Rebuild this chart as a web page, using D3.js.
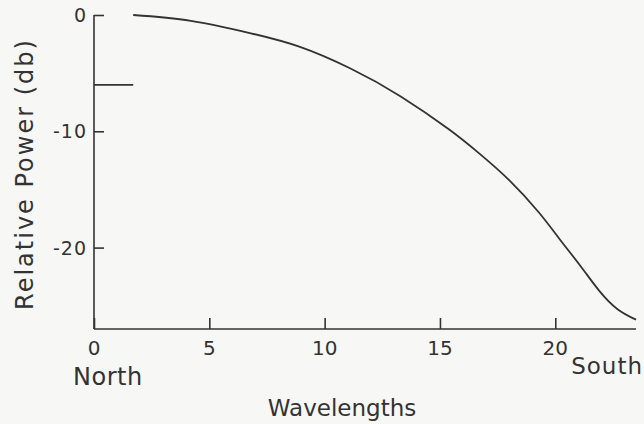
<!DOCTYPE html>
<html>
<head>
<meta charset="utf-8">
<script src="https://cdn.jsdelivr.net/npm/d3@7"></script>
<style>
  body { margin: 0; background: #f7f7f5; }
  svg { display: block; }
  text { font-family: "DejaVu Sans", sans-serif; fill: #333; }
</style>
</head>
<body>
<svg width="644" height="424"></svg>
<script>
'use strict'

// wavelengths from the north end
var wavelengths = [1.7, 4.2, 6.8, 8.9, 11.1, 13.3, 15.4, 16.7, 18.0, 19.3, 20.2, 21.1, 21.9, 22.7, 23.5]
// relative power in db
var power = [0, -0.5, -1.57, -2.72, -4.58, -7.0, -9.85, -11.9, -14.2, -17.0, -19.3, -21.6, -23.7, -25.3, -26.2]
// the -6 db reference mark
var refLevel = [{x: 0, y: -6}, {x: 1.7, y: -6}]

var xTicks = [0, 5, 10, 15, 20]
var yTicks = [0, -10, -20]

var svg = d3.select('svg'),
  ink = '#333'

var x = d3.scaleLinear().domain([0, 23.5]).range([94, 636])
var y = d3.scaleLinear().domain([0, -27]).range([15, 329])

var points = wavelengths.map(function(d, i) { return {x: d, y: power[i]} })

// x axis, ticks pointing up
var xAxis = svg.append('g')
  .attr('transform', 'translate(0,' + y(-27) + ')')
  .call(d3.axisTop(x).tickValues(xTicks).tickSize(11).tickFormat(''))
xAxis.select('.domain').attr('d', 'M' + x(0) + ',0H' + x(23.5))

// y axis, ticks pointing right
var yAxis = svg.append('g')
  .attr('transform', 'translate(' + x(0) + ',0)')
  .call(d3.axisRight(y).tickValues(yTicks).tickSize(10).tickFormat(''))
yAxis.select('.domain').attr('d', 'M0,' + y(0) + 'V' + y(-27))

svg.selectAll('.domain, .tick line')
  .attr('stroke', ink)
  .attr('stroke-width', 1.6)

// tick labels
svg.append('g').selectAll('text')
  .data(xTicks)
  .enter().append('text')
  .attr('x', function(d) { return x(d) })
  .attr('y', 355)
  .attr('text-anchor', 'middle')
  .style('font-size', '20px')
  .text(function(d) { return d })

svg.append('g').selectAll('text')
  .data(yTicks)
  .enter().append('text')
  .attr('x', 87)
  .attr('y', function(d) { return y(d) + 7 })
  .attr('text-anchor', 'end')
  .style('font-size', '19px')
  .style('letter-spacing', '1px')
  .text(function(d) { return d == 0 ? '0' : '-' + Math.abs(d) })

// axis titles
svg.append('text')
  .attr('x', 73).attr('y', 385)
  .style('font-size', '24px')
  .style('letter-spacing', '0.5px')
  .text('North')

svg.append('text')
  .attr('x', 643).attr('y', 374)
  .attr('text-anchor', 'end')
  .style('font-size', '23px')
  .style('letter-spacing', '1px')
  .text('South')

svg.append('text')
  .attr('x', 342).attr('y', 416)
  .attr('text-anchor', 'middle')
  .style('font-size', '23px')
  .text('Wavelengths')

svg.append('text')
  .attr('transform', 'translate(33,174) rotate(-90)')
  .attr('text-anchor', 'middle')
  .style('font-size', '24px')
  .style('letter-spacing', '2px')
  .text('Relative Power (db)')

var line = d3.line()
  .x(function(d) { return x(d.x) })
  .y(function(d) { return y(d.y) })

svg.append('path')
  .datum(refLevel)
  .attr('d', line)
  .attr('fill', 'none')
  .attr('stroke', ink)
  .attr('stroke-width', 1.8)

svg.append('path')
  .datum(points)
  .attr('d', line.curve(d3.curveNatural))
  .attr('fill', 'none')
  .attr('stroke', ink)
  .attr('stroke-width', 1.8)
</script>
</body>
</html>
